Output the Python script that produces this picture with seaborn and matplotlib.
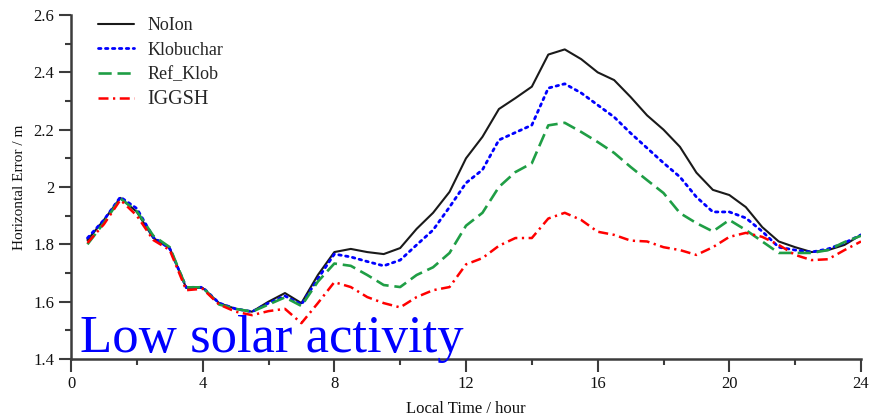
import numpy as np
import pandas as pd
import matplotlib
matplotlib.use("Agg")
import matplotlib.pyplot as plt
import seaborn as sns

hours = [0.5, 1.0, 1.5, 2.0, 2.5, 3.0, 3.5, 4.0, 4.5, 5.0, 5.5, 6.0,
         6.5, 7.0, 7.5, 8.0, 8.5, 9.0, 9.5, 10.0, 10.5, 11.0, 11.5, 12.0,
         12.5, 13.0, 13.5, 14.0, 14.5, 15.0, 15.5, 16.0, 16.5, 17.0, 17.5, 18.0,
         18.5, 19.0, 19.5, 20.0, 20.5, 21.0, 21.5, 22.0, 22.5, 23.0, 23.5, 24.0]

noion = [1.815, 1.885, 1.962, 1.913, 1.822, 1.787, 1.648, 1.648, 1.595, 1.575, 1.565, 1.600,
         1.630, 1.595, 1.693, 1.773, 1.784, 1.773, 1.766, 1.787, 1.854, 1.910, 1.983, 2.100,
         2.175, 2.272, 2.310, 2.350, 2.462, 2.480, 2.446, 2.400, 2.373, 2.314, 2.250, 2.200,
         2.140, 2.050, 1.990, 1.972, 1.930, 1.860, 1.810, 1.790, 1.773, 1.780, 1.798, 1.833]

klobuchar = [1.822, 1.885, 1.965, 1.925, 1.825, 1.785, 1.650, 1.650, 1.595, 1.575, 1.565, 1.595,
             1.620, 1.590, 1.680, 1.766, 1.756, 1.740, 1.725, 1.745, 1.798, 1.850, 1.930, 2.014,
             2.060, 2.164, 2.190, 2.216, 2.345, 2.360, 2.328, 2.286, 2.244, 2.188, 2.136, 2.084,
             2.035, 1.965, 1.913, 1.913, 1.892, 1.845, 1.790, 1.780, 1.773, 1.784, 1.805, 1.833]

ref_klob = [1.800, 1.875, 1.960, 1.915, 1.830, 1.790, 1.650, 1.650, 1.590, 1.575, 1.565, 1.590,
            1.615, 1.585, 1.670, 1.733, 1.725, 1.693, 1.658, 1.651, 1.693, 1.720, 1.770, 1.865,
            1.910, 2.000, 2.052, 2.083, 2.215, 2.224, 2.192, 2.157, 2.119, 2.070, 2.024, 1.979,
            1.909, 1.874, 1.845, 1.885, 1.850, 1.810, 1.770, 1.770, 1.770, 1.780, 1.808, 1.830]

iggsh = [1.805, 1.870, 1.955, 1.900, 1.815, 1.780, 1.640, 1.645, 1.590, 1.565, 1.553, 1.567,
         1.575, 1.525, 1.595, 1.668, 1.651, 1.616, 1.595, 1.580, 1.616, 1.640, 1.651, 1.730,
         1.752, 1.795, 1.822, 1.822, 1.890, 1.910, 1.885, 1.844, 1.833, 1.813, 1.810, 1.790,
         1.780, 1.763, 1.790, 1.826, 1.840, 1.826, 1.798, 1.763, 1.745, 1.748, 1.780, 1.810]

series_names = ["NoIon", "Klobuchar", "Ref_Klob", "IGGSH"]
x_ticks = [0, 4, 8, 12, 16, 20, 24]
y_ticks = [1.4, 1.6, 1.8, 2.0, 2.2, 2.4, 2.6]
y_tick_labels = ["1.4", "1.6", "1.8", "2", "2.2", "2.4", "2.6"]

sns.set_style("ticks")
plt.rcParams["font.family"] = ["Liberation Serif", "DejaVu Serif"]

fig = plt.figure(figsize=(8.69, 4.18), dpi=100)
ax = fig.add_axes([71 / 869, 1 - 359 / 418, 790 / 869, 344 / 418])

styles = {
    "NoIon": dict(color="#1a1a1a", dashes=None, lw=1.5),
    "Klobuchar": dict(color="#0000ff", dashes=(0.9, 1.6), lw=2.0),
    "Ref_Klob": dict(color="#1f9e45", dashes=(5.0, 2.2), lw=1.9),
    "IGGSH": dict(color="#ff0000", dashes=(4.0, 1.8, 0.9, 1.8), lw=1.8),
}

for name, vals in zip(series_names, [noion, klobuchar, ref_klob, iggsh]):
    st = styles[name]
    sns.lineplot(x=hours, y=vals, ax=ax, color=st["color"], label=name,
                 linewidth=st["lw"], errorbar=None)
    line = ax.lines[-1]
    if st["dashes"] is not None:
        line.set_dashes(st["dashes"])
        if name == "Klobuchar":
            line.set_dash_capstyle("round")

ax.set_xlim(0, 24)
ax.set_ylim(1.4, 2.6)
ax.set_xticks(x_ticks)
ax.set_xticks(np.arange(2, 24, 4), minor=True)
ax.set_yticks(y_ticks)
ax.set_yticklabels(y_tick_labels)
ax.set_yticks(np.arange(1.5, 2.6, 0.2), minor=True)

spine_col = "#3c3c3c"
for s in ["left", "bottom"]:
    ax.spines[s].set_linewidth(1.8)
    ax.spines[s].set_color(spine_col)
for s in ["top", "right"]:
    ax.spines[s].set_visible(False)

ax.tick_params(which="major", direction="out", length=9, width=1.5, color=spine_col,
               labelsize=12, pad=3, labelcolor="#111111")
ax.tick_params(which="minor", direction="out", length=4.5, width=1.5, color=spine_col)

ax.set_xlabel("Local Time / hour", fontsize=12, labelpad=7, color="#111111")
ax.set_ylabel("Horizontal Error / m", fontsize=11, labelpad=5, color="#111111")

leg = ax.legend(loc="upper left", bbox_to_anchor=(0.014, 1.04), frameon=False,
                fontsize=13, handlelength=2.0, handletextpad=0.7, labelspacing=0.4)
leg.get_texts()[3].set_fontsize(14.5)

ax.text(0.011, 0.02, "Low solar activity", transform=ax.transAxes, color="#0000ff",
        fontsize=38, va="baseline", ha="left")

fig.savefig("out.png", dpi=100)
